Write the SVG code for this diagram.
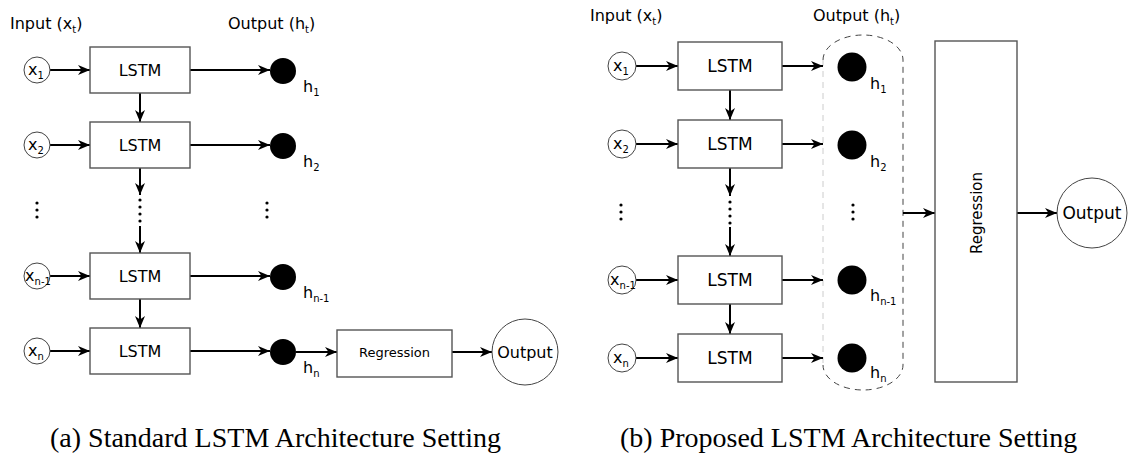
<svg xmlns="http://www.w3.org/2000/svg" width="1135" height="457" viewBox="0 0 1135 457">
<style>
text{font-family:"DejaVu Sans",sans-serif;fill:#000}
.box{fill:#fff;stroke:#555;stroke-width:1.4}
.in{fill:#fff;stroke:#444;stroke-width:1}
.h{fill:#000}
.ca{stroke:#000;stroke-width:2;fill:none;marker-end:url(#ah)}
.dot{fill:#000}
.cap{font-family:"Liberation Serif","Times New Roman",serif;font-size:28px}
</style>
<defs>
<marker id="ah" markerUnits="userSpaceOnUse" markerWidth="13" markerHeight="11" refX="12" refY="5" orient="auto">
<path d="M0,0 L12,5 L0,10 L3.5,5 Z" fill="#000"/>
</marker>
</defs>
<rect width="1135" height="457" fill="#fff"/>

<!-- ===== Left panel ===== -->
<g id="a-titles" font-size="16">
<text x="10" y="29">Input (x<tspan font-size="10" dy="4">t</tspan><tspan dy="-4">)</tspan></text>
<text x="228" y="29">Output (h<tspan font-size="10" dy="4">t</tspan><tspan dy="-4">)</tspan></text>
</g>

<g id="a-connectors">
<line class="ca" x1="50" y1="70" x2="90" y2="70"/>
<line class="ca" x1="50" y1="145" x2="90" y2="145"/>
<line class="ca" x1="50" y1="276" x2="90" y2="276"/>
<line class="ca" x1="50" y1="351" x2="90" y2="351"/>
<line class="ca" x1="190" y1="70" x2="270" y2="70"/>
<line class="ca" x1="190" y1="145" x2="270" y2="145"/>
<line class="ca" x1="190" y1="276" x2="270" y2="276"/>
<line class="ca" x1="190" y1="351" x2="270" y2="351"/>
<line class="ca" x1="140" y1="93" x2="140" y2="122"/>
<line class="ca" x1="140" y1="168" x2="140" y2="195"/>
<line class="ca" x1="140" y1="226" x2="140" y2="253"/>
<line class="ca" x1="140" y1="299" x2="140" y2="328"/>
<line class="ca" x1="296" y1="352" x2="337" y2="352"/>
<line class="ca" x1="452" y1="352" x2="492" y2="352"/>
</g>

<g id="a-x1"><circle class="in" cx="37" cy="70" r="13"/><text x="36" y="75" font-size="16" text-anchor="middle">x<tspan font-size="10" dy="4">1</tspan></text></g>
<g id="a-x2"><circle class="in" cx="37" cy="145" r="13"/><text x="36" y="150" font-size="16" text-anchor="middle">x<tspan font-size="10" dy="4">2</tspan></text></g>
<g id="a-xn1"><circle class="in" cx="37" cy="276" r="13"/><text x="38" y="281" font-size="16" text-anchor="middle">x<tspan font-size="10" dy="4">n-1</tspan></text></g>
<g id="a-xn"><circle class="in" cx="37" cy="351" r="13"/><text x="36" y="356" font-size="16" text-anchor="middle">x<tspan font-size="10" dy="4">n</tspan></text></g>

<g id="a-lstm1"><rect class="box" x="90" y="47" width="100" height="46"/><text x="140" y="76" font-size="16" text-anchor="middle">LSTM</text></g>
<g id="a-lstm2"><rect class="box" x="90" y="122" width="100" height="46"/><text x="140" y="151" font-size="16" text-anchor="middle">LSTM</text></g>
<g id="a-lstm3"><rect class="box" x="90" y="253" width="100" height="46"/><text x="140" y="282" font-size="16" text-anchor="middle">LSTM</text></g>
<g id="a-lstm4"><rect class="box" x="90" y="328" width="100" height="46"/><text x="140" y="357" font-size="16" text-anchor="middle">LSTM</text></g>

<g id="a-h1"><circle class="h" cx="283" cy="71" r="13"/><text x="303" y="92" font-size="16">h<tspan font-size="10" dy="4">1</tspan></text></g>
<g id="a-h2"><circle class="h" cx="283" cy="146" r="13"/><text x="303" y="167" font-size="16">h<tspan font-size="10" dy="4">2</tspan></text></g>
<g id="a-hn1"><circle class="h" cx="283" cy="277" r="13"/><text x="303" y="298" font-size="16">h<tspan font-size="10" dy="4">n-1</tspan></text></g>
<g id="a-hn"><circle class="h" cx="283" cy="352" r="13"/><text x="303" y="373" font-size="16">h<tspan font-size="10" dy="4">n</tspan></text></g>

<g id="a-dots">
<circle class="dot" cx="37" cy="203" r="1.6"/><circle class="dot" cx="37" cy="210" r="1.6"/><circle class="dot" cx="37" cy="217" r="1.6"/>
<circle class="dot" cx="140" cy="200" r="1.6"/><circle class="dot" cx="140" cy="207" r="1.6"/><circle class="dot" cx="140" cy="214" r="1.6"/><circle class="dot" cx="140" cy="221" r="1.6"/>
<circle class="dot" cx="267" cy="203" r="1.6"/><circle class="dot" cx="267" cy="210" r="1.6"/><circle class="dot" cx="267" cy="217" r="1.6"/>
</g>

<g id="a-regression"><rect class="box" x="337" y="330" width="115" height="47"/><text x="394.5" y="357" font-size="13" text-anchor="middle">Regression</text></g>
<g id="a-output"><circle class="in" cx="525" cy="352" r="33"/><text x="525" y="358" font-size="16" text-anchor="middle">Output</text></g>

<!-- ===== Right panel ===== -->
<g id="b-titles" font-size="16">
<text x="590" y="21">Input (x<tspan font-size="10" dy="4">t</tspan><tspan dy="-4">)</tspan></text>
<text x="813" y="21">Output (h<tspan font-size="10" dy="4">t</tspan><tspan dy="-4">)</tspan></text>
</g>

<g id="b-group">
<path d="M823,60 A40,25 0 0 1 903,60 L903,365 A40,25 0 0 1 823,365" fill="none" stroke="#444" stroke-width="1" stroke-dasharray="6,5"/>
<line x1="823" y1="60" x2="823" y2="365" stroke="#ccc" stroke-width="1" stroke-dasharray="6,5"/>
</g>

<g id="b-connectors">
<line class="ca" x1="636" y1="66" x2="678" y2="66"/>
<line class="ca" x1="636" y1="144" x2="678" y2="144"/>
<line class="ca" x1="636" y1="280" x2="678" y2="280"/>
<line class="ca" x1="636" y1="358" x2="678" y2="358"/>
<line class="ca" x1="782" y1="66" x2="823" y2="66"/>
<line class="ca" x1="782" y1="144" x2="823" y2="144"/>
<line class="ca" x1="782" y1="280" x2="823" y2="280"/>
<line class="ca" x1="782" y1="358" x2="823" y2="358"/>
<line class="ca" x1="730" y1="90" x2="730" y2="120"/>
<line class="ca" x1="730" y1="168" x2="730" y2="196"/>
<line class="ca" x1="730" y1="227" x2="730" y2="256"/>
<line class="ca" x1="730" y1="304" x2="730" y2="334"/>
<line class="ca" x1="903" y1="213" x2="935" y2="213"/>
<line class="ca" x1="1017" y1="213" x2="1057" y2="213"/>
</g>

<g id="b-x1"><circle class="in" cx="622" cy="66" r="14"/><text x="621" y="71" font-size="16" text-anchor="middle">x<tspan font-size="10" dy="4">1</tspan></text></g>
<g id="b-x2"><circle class="in" cx="622" cy="144" r="14"/><text x="621" y="149" font-size="16" text-anchor="middle">x<tspan font-size="10" dy="4">2</tspan></text></g>
<g id="b-xn1"><circle class="in" cx="622" cy="280" r="14"/><text x="623" y="285" font-size="16" text-anchor="middle">x<tspan font-size="10" dy="4">n-1</tspan></text></g>
<g id="b-xn"><circle class="in" cx="622" cy="358" r="14"/><text x="621" y="363" font-size="16" text-anchor="middle">x<tspan font-size="10" dy="4">n</tspan></text></g>

<g id="b-lstm1"><rect class="box" x="678" y="42" width="104" height="48"/><text x="730" y="72" font-size="17" text-anchor="middle">LSTM</text></g>
<g id="b-lstm2"><rect class="box" x="678" y="120" width="104" height="48"/><text x="730" y="150" font-size="17" text-anchor="middle">LSTM</text></g>
<g id="b-lstm3"><rect class="box" x="678" y="256" width="104" height="48"/><text x="730" y="286" font-size="17" text-anchor="middle">LSTM</text></g>
<g id="b-lstm4"><rect class="box" x="678" y="334" width="104" height="48"/><text x="730" y="364" font-size="17" text-anchor="middle">LSTM</text></g>

<g id="b-h1"><circle class="h" cx="852" cy="67" r="14.5"/><text x="870" y="89" font-size="16">h<tspan font-size="10" dy="4">1</tspan></text></g>
<g id="b-h2"><circle class="h" cx="852" cy="145" r="14.5"/><text x="870" y="167" font-size="16">h<tspan font-size="10" dy="4">2</tspan></text></g>
<g id="b-hn1"><circle class="h" cx="852" cy="280" r="14.5"/><text x="870" y="301" font-size="16">h<tspan font-size="10" dy="4">n-1</tspan></text></g>
<g id="b-hn"><circle class="h" cx="852" cy="358" r="14.5"/><text x="870" y="378" font-size="16">h<tspan font-size="10" dy="4">n</tspan></text></g>

<g id="b-dots">
<circle class="dot" cx="621" cy="205" r="1.6"/><circle class="dot" cx="621" cy="212" r="1.6"/><circle class="dot" cx="621" cy="219" r="1.6"/>
<circle class="dot" cx="730" cy="202" r="1.6"/><circle class="dot" cx="730" cy="209" r="1.6"/><circle class="dot" cx="730" cy="216" r="1.6"/><circle class="dot" cx="730" cy="223" r="1.6"/>
<circle class="dot" cx="853" cy="205" r="1.6"/><circle class="dot" cx="853" cy="212" r="1.6"/><circle class="dot" cx="853" cy="219" r="1.6"/>
</g>

<g id="b-regression"><rect class="box" x="935" y="41" width="82" height="341"/><text x="0" y="0" font-size="15" text-anchor="middle" transform="translate(982,213) rotate(-90)">Regression</text></g>
<g id="b-output"><circle class="in" cx="1092" cy="213" r="35"/><text x="1092" y="219" font-size="17" text-anchor="middle">Output</text></g>

<g id="captions">
<text class="cap" x="50" y="447">(a) Standard LSTM Architecture Setting</text>
<text class="cap" x="620" y="447">(b) Proposed LSTM Architecture Setting</text>
</g>
</svg>
